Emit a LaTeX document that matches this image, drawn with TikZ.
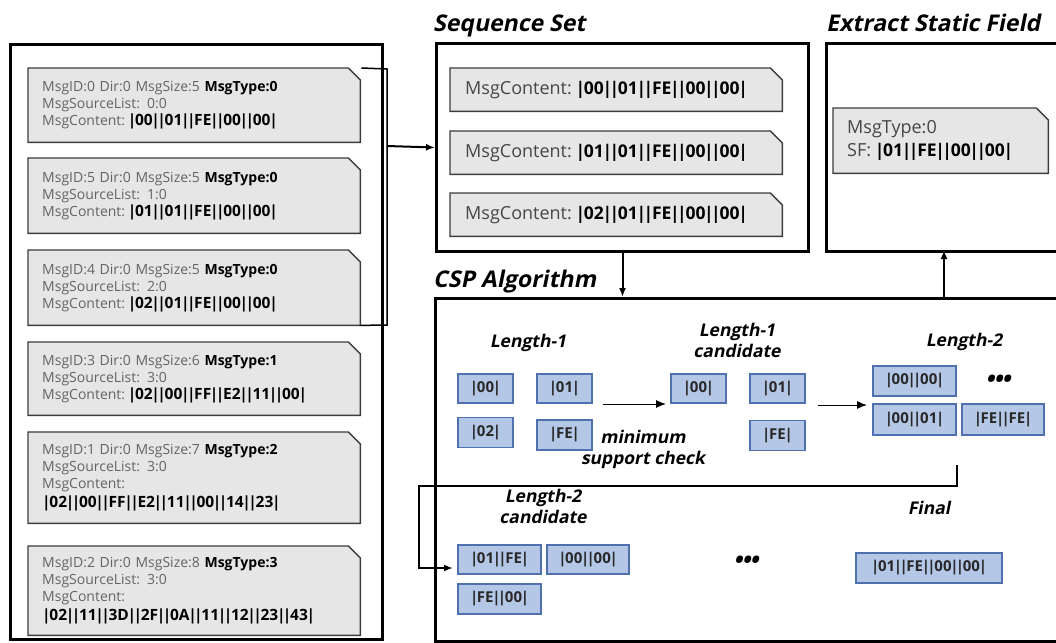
\documentclass[tikz,border=0pt]{standalone}
\usepackage{fontspec}
\setmainfont{Open Sans}
\newfontfamily\ttl[FakeSlant=0.2,BoldFeatures={FakeSlant=0.2}]{Open Sans}
\usetikzlibrary{arrows.meta,backgrounds}

\definecolor{cardfill}{RGB}{230,230,230}
\definecolor{cardline}{RGB}{60,60,60}
\definecolor{cardtext}{RGB}{100,100,100}
\definecolor{seqtext}{RGB}{70,70,70}
\definecolor{blfill}{RGB}{180,199,231}
\definecolor{blline}{RGB}{80,112,176}

\tikzset{
  frame/.style={draw=black, line width=3pt},
  title/.style={anchor=base west, inner sep=0, font=\ttl\bfseries\fontsize{23}{26}\selectfont},
  card/.style={anchor=north west, inner xsep=14pt, inner ysep=0, align=left,
    text=cardtext, font=\fontsize{14}{17}\selectfont},
  seqcard/.style={anchor=north west, inner xsep=15pt, inner ysep=0, align=left,
    text=seqtext, font=\fontsize{18}{23}\selectfont},
  cardshape/.style={draw=cardline, line width=1.4pt, fill=cardfill},
  blue/.style={draw=blline, line width=1.2pt, fill=blfill, inner sep=0,
    text={rgb,255:red,40;green,40;blue,40}, font=\bfseries\fontsize{15}{18}\selectfont},
  step label/.style={align=center, inner sep=0, font=\ttl\bfseries\fontsize{17.5}{21}\selectfont},
  dotrow/.style={inner sep=0, font=\ttl\bfseries\fontsize{24}{24}\selectfont},
  flow/.style={draw=black, line width=2pt, -{Latex[length=9pt,width=7pt]}},
  thin flow/.style={draw=black, line width=1pt, -{Latex[length=10pt,width=8pt]}},
  loop line/.style={draw=black, line width=2pt},
}
% byte cells |xx||yy|... with tight bars
\newcommand\vb{\kern-1.3pt|\kern-1.3pt}
\newcommand\cells[1]{\foreach \x in {#1}{\vb\x\vb}}
\newcommand\bc[1]{{\color{black}\bfseries#1}}
\newcommand\bcl[1]{\kern4pt{\color{black}\bfseries\fontsize{15.5}{17}\selectfont\cells{#1}}}
\newcommand\bs[1]{\kern5pt{\color{black}\bfseries\fontsize{17.5}{23}\selectfont\cells{#1}}}

\begin{document}
\begin{tikzpicture}[x=1pt,y=-1pt]
\clip (0,0) rectangle (1056,642);
\useasboundingbox (0,0) rectangle (1056,642);

% ---- message list ----
\node[frame, anchor=north west, minimum width=372pt, minimum height=595pt] (msgs) at (9,43) {};

\node[card, minimum width=332pt, minimum height=74pt, text width=304pt] (m1) at (28,68)
  {MsgID:0 Dir:0 MsgSize:5 \bc{MsgType:0}\\MsgSourceList: 0:0\\MsgContent:\bcl{00,01,FE,00,00}};
\node[card, minimum width=332pt, minimum height=75pt, text width=304pt] (m2) at (28,158)
  {MsgID:5 Dir:0 MsgSize:5 \bc{MsgType:0}\\MsgSourceList: 1:0\\MsgContent:\bcl{01,01,FE,00,00}};
\node[card, minimum width=332pt, minimum height=75pt, text width=304pt] (m3) at (28,250)
  {MsgID:4 Dir:0 MsgSize:5 \bc{MsgType:0}\\MsgSourceList: 2:0\\MsgContent:\bcl{02,01,FE,00,00}};
\node[card, minimum width=332pt, minimum height=73pt, text width=304pt] (m4) at (28,342)
  {MsgID:3 Dir:0 MsgSize:6 \bc{MsgType:1}\\MsgSourceList: 3:0\\MsgContent:\bcl{02,00,FF,E2,11,00}};
\node[card, minimum width=332pt, minimum height=91pt, text width=304pt] (m5) at (28,432)
  {MsgID:1 Dir:0 MsgSize:7 \bc{MsgType:2}\\MsgSourceList: 3:0\\MsgContent:\\\bcl{02,00,FF,E2,11,00,14,23}};
\node[card, minimum width=332pt, minimum height=89pt, text width=304pt] (m6) at (28,546)
  {MsgID:2 Dir:0 MsgSize:8 \bc{MsgType:3}\\MsgSourceList: 3:0\\MsgContent:\\\bcl{02,11,3D,2F,0A,11,12,23,43}};

% ---- sequence set ----
\node[title] (seqtitle) at (433,32) {Sequence Set};
\node[frame, anchor=north west, minimum width=372pt, minimum height=208pt] (seq) at (435,42) {};
\node[seqcard, minimum width=332pt, minimum height=43pt, text width=302pt] (s1) at (450,68)
  {MsgContent:\bs{00,01,FE,00,00}};
\node[seqcard, minimum width=332pt, minimum height=43pt, text width=302pt] (s2) at (450,131)
  {MsgContent:\bs{01,01,FE,00,00}};
\node[seqcard, minimum width=332pt, minimum height=43pt, text width=302pt] (s3) at (450,193)
  {MsgContent:\bs{02,01,FE,00,00}};

% ---- extract static field ----
\node[title] (esftitle) at (826,32) {Extract Static Field};
\node[frame, anchor=north west, minimum width=250pt, minimum height=208pt] (esf) at (825,42) {};
\node[seqcard, minimum width=215pt, minimum height=65pt, text width=187pt, inner xsep=14pt] (sf) at (833,108)
  {MsgType:0\\SF:\bs{01,FE,00,00}};

% ---- CSP algorithm ----
\node[title] (csptitle) at (433,287) {CSP Algorithm};
\node[frame, anchor=north west, minimum width=640pt, minimum height=343pt] (csp) at (434,297) {};

\node[step label] (l1) at (528,343) {Length-1};
\node[blue, minimum width=55pt, minimum height=29pt] (b00) at (485.5,388.5) {\cells{00}};
\node[blue, minimum width=55pt, minimum height=29pt] (b01) at (564.5,388.5) {\cells{01}};
\node[blue, minimum width=55pt, minimum height=30pt] (b02) at (485.5,432.5) {\cells{02}};
\node[blue, minimum width=55pt, minimum height=30pt] (bFE) at (564.5,435) {\cells{FE}};
\node[step label] (msc) at (643,449) {minimum\\support check};

\node[step label] (l1c) at (737,340) {Length-1\\candidate};
\node[blue, minimum width=55pt, minimum height=29pt] (c00) at (698.5,388.5) {\cells{00}};
\node[blue, minimum width=55pt, minimum height=29pt] (c01) at (777.5,388.5) {\cells{01}};
\node[blue, minimum width=55pt, minimum height=30pt] (cFE) at (777.5,435.5) {\cells{FE}};

\node[step label] (l2) at (964,342) {Length-2};
\node[blue, minimum width=83pt, minimum height=30pt] (d0000) at (914.5,381) {\cells{00,00}};
\node[blue, minimum width=83pt, minimum height=31pt] (d0001) at (914.5,419.5) {\cells{00,01}};
\node[blue, minimum width=82pt, minimum height=31pt] (dFEFE) at (1003,419.5) {\cells{FE,FE}};
\node[dotrow] (dots1) at (998,381) {\textbullet\kern-1pt\textbullet\kern-1pt\textbullet};

\node[step label] (l2c) at (543,506) {Length-2\\candidate};
\node[blue, minimum width=83pt, minimum height=29pt] (e01FE) at (499.5,559.5) {\cells{01,FE}};
\node[blue, minimum width=82pt, minimum height=29pt] (e0000) at (588,559.5) {\cells{00,00}};
\node[blue, minimum width=83pt, minimum height=30pt] (eFE00) at (499.5,599) {\cells{FE,00}};
\node[dotrow] (dots2) at (746,562) {\textbullet\kern-1pt\textbullet\kern-1pt\textbullet};

\node[step label] (fin) at (929,508) {Final};
\node[blue, minimum width=146pt, minimum height=30pt] (final) at (929,568) {\cells{01,FE,00,00}};

% ---- card outlines (behind the text) ----
\begin{scope}[on background layer]
  \foreach \c in {m1,m2,m3,m4,m5,m6,s1,s2,s3,sf}{
    \draw[cardshape] (\c.south west) -- (\c.north west) -- ([xshift=-12pt]\c.north east)
      -- ([yshift=-12pt]\c.north east) -- (\c.south east) -- cycle;
  }
\end{scope}

% ---- connectors ----
\coordinate (brT) at (387,69);
\coordinate (brB) at (387,325);
\coordinate (brM) at (387,146);
\draw[line width=1.5pt] ([xshift=1pt]m1.north east) -- (brT) -- (brB) -- (m3.south east);
\draw[flow] (brM) -- (seq.west);

\draw[flow] (seq.south) -- (seq.south |- csp.north);
\coordinate (esfIn) at (944,250);
\draw[flow] (esfIn |- csp.north) -- (esfIn);

\coordinate (a1s) at (603,404);
\coordinate (a1e) at (666,404);
\draw[thin flow] (a1s) -- (a1e);
\coordinate (a2s) at (818,405);
\coordinate (a2e) at (867,405);
\draw[thin flow] (a2s) -- (a2e);

\coordinate (lpA) at (957,465);
\coordinate (lpB) at (957,486);
\coordinate (lpC) at (419,486);
\coordinate (lpD) at (419,568);
\coordinate (lpE) at (453,568);
\draw[loop line, -{Latex[length=9pt,width=7pt]}] (lpA) -- (lpB) -- (lpC) -- (lpD) -- (lpE);
\end{tikzpicture}
\end{document}
